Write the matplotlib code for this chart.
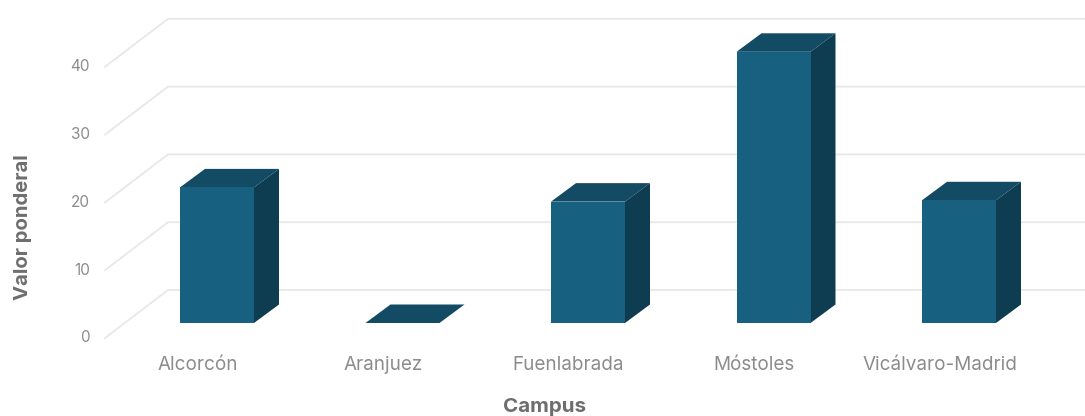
import matplotlib
matplotlib.use("Agg")
import matplotlib.pyplot as plt
from matplotlib.patches import Polygon

campus = ["Alcorcón", "Aranjuez", "Fuenlabrada", "Móstoles", "Vicálvaro-Madrid"]
valores = [20, 0, 17.9, 40, 18.1]
y_ticks = [0, 10, 20, 30, 40]

plt.rcParams["font.family"] = ["Inter", "DejaVu Sans"]

FRONT = "#176080"
TOP = "#134a64"
SIDE = "#0e3c50"
GRID = "#e8e8e8"
TICK_COLOR = "#8c8c8c"
TITLE_COLOR = "#6e6e6e"

W, H = 1085, 416
STEP = 185.5  # px per category
UNIT = 6.78   # px per value unit
fig = plt.figure(figsize=(W / 100, H / 100), dpi=100)

# axes fill the whole figure so positions can be worked out from the picture
ax = fig.add_axes([0, 0, 1, 1])
ax.set_xlim(-217 / STEP, (W - 217) / STEP)
ax.set_ylim(-(H - 323) / UNIT, 323 / UNIT)
ax.axis("off")

bar_w = 74 / STEP
dx = 25 / STEP
dy = 18.5 / UNIT

# 3d floor/wall grid, offsets in data units
front_x = (105 - 217) / STEP
back_x = (168 - 217) / STEP
right_x = (W - 217) / STEP
front_off = -15 / UNIT
back_off = 33 / UNIT

for v in y_ticks:
    ax.plot([front_x, back_x, right_x],
            [v + front_off, v + back_off, v + back_off],
            color=GRID, lw=1.3, zorder=1, solid_joinstyle="miter")
    ax.text(front_x - 15 / STEP, v - 13.5 / UNIT, str(v), ha="right", va="center_baseline",
            fontsize=11, color=TICK_COLOR)

for i, val in enumerate(valores):
    x0 = i - bar_w / 2
    x1 = i + bar_w / 2
    ax.add_patch(Polygon([(x1, 0), (x1 + dx, dy), (x1 + dx, val + dy), (x1, val)],
                         closed=True, facecolor=SIDE, edgecolor="none", zorder=2))
    ax.add_patch(Polygon([(x0, val), (x0 + dx, val + dy), (x1 + dx, val + dy), (x1, val)],
                         closed=True, facecolor=TOP, edgecolor="none", zorder=3))
    ax.bar(i, val, width=bar_w, bottom=0, color=FRONT, zorder=4)
    ax.text(i - 19.5 / STEP, -47 / UNIT, campus[i], ha="center", va="baseline",
            fontsize=13.6, color=TICK_COLOR)

ax.text((545 - 217) / STEP, -89 / UNIT, "Campus", ha="center", va="baseline",
        fontsize=14.8, fontweight="bold", color=TITLE_COLOR)
ax.text((23 - 217) / STEP, (323 - 227) / UNIT, "Valor ponderal", ha="center", va="center",
        rotation=90, fontsize=14.6, fontweight="bold", color=TITLE_COLOR)

fig.savefig("out.png", dpi=100)
